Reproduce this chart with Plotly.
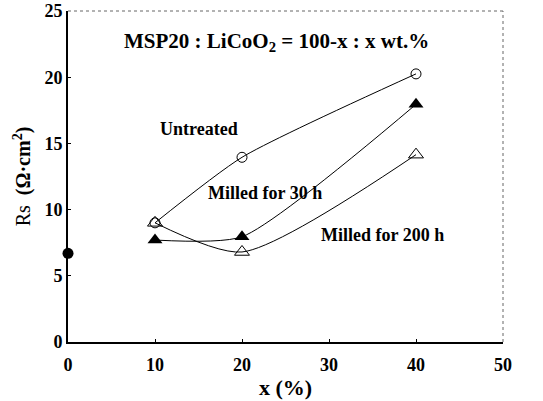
import plotly.graph_objects as go

x_vals = [10, 20, 40]
untreated = [9.0, 13.95, 20.25]
milled_30h = [7.7, 7.95, 17.95]
milled_200h = [9.0, 6.8, 14.15]
ref_x = [0]
ref_y = [6.7]

FONT = "Liberation Serif"

fig = go.Figure()
fig.add_trace(go.Scatter(x=x_vals, y=untreated, mode="lines+markers", name="Untreated",
                         line=dict(color="black", width=1, shape="spline", smoothing=0.6),
                         marker=dict(symbol="circle-open", size=10, color="black", line=dict(width=1))))
fig.add_trace(go.Scatter(x=x_vals, y=milled_30h, mode="lines+markers", name="Milled for 30 h",
                         line=dict(color="black", width=1, shape="spline", smoothing=0.6),
                         marker=dict(symbol="triangle-up", size=13, color="black")))
fig.add_trace(go.Scatter(x=x_vals, y=milled_200h, mode="lines+markers", name="Milled for 200 h",
                         line=dict(color="black", width=1, shape="spline", smoothing=0.7),
                         marker=dict(symbol="triangle-up-open", size=13, color="black", line=dict(width=1))))
fig.add_trace(go.Scatter(x=ref_x, y=ref_y, mode="markers", name="MSP20",
                         marker=dict(symbol="circle", size=11, color="black"), cliponaxis=False))

annots = [
    dict(x=24.0, y=22.66, text="<b>MSP20 : LiCoO<sub>2</sub> = 100-x : x wt.%</b>", size=21),
    dict(x=15.1, y=16.1, text="<b>Untreated</b>", size=18),
    dict(x=22.6, y=11.25, text="<b>Milled for 30 h</b>", size=18),
    dict(x=36.2, y=8.08, text="<b>Milled for 200 h</b>", size=18),
]
for a in annots:
    fig.add_annotation(x=a["x"], y=a["y"], text=a["text"], showarrow=False,
                       font=dict(family=FONT, size=a["size"], color="black"))

# thin dotted top/right frame
fig.add_shape(type="line", xref="paper", yref="paper", x0=0, x1=1, y0=1, y1=1,
              line=dict(color="#666", width=1, dash="dot"))
fig.add_shape(type="line", xref="paper", yref="paper", x0=1, x1=1, y0=0, y1=1,
              line=dict(color="#666", width=1, dash="dot"))

fig.update_layout(
    width=543, height=401,
    margin=dict(l=68, r=40, t=11, b=59),
    plot_bgcolor="white", paper_bgcolor="white",
    showlegend=False,
    font=dict(family=FONT, color="black"),
    xaxis=dict(range=[0, 50], tickvals=[0, 10, 20, 30, 40, 50],
               ticktext=["<b>0</b>", "<b>10</b>", "<b>20</b>", "<b>30</b>", "<b>40</b>", "<b>50</b>"],
               ticks="inside", ticklen=3, tickcolor="black", ticklabelstandoff=5,
               showline=True, linecolor="black", linewidth=2, showgrid=False, zeroline=False,
               tickfont=dict(family=FONT, size=18), automargin=False,
               title=dict(text="<b>x (%)</b>", font=dict(family=FONT, size=22), standoff=6)),
    yaxis=dict(range=[0, 25], tickvals=[0, 5, 10, 15, 20, 25],
               ticktext=["<b>0</b>", "<b>5</b>", "<b>10</b>", "<b>15</b>", "<b>20</b>", "<b>25</b>"],
               ticks="inside", ticklen=3, tickcolor="black",
               showline=True, linecolor="black", linewidth=2, showgrid=False, zeroline=False,
               tickfont=dict(family=FONT, size=18), automargin=False,
               title=dict(text="Rs  <b>(Ω·cm<sup>2</sup>)</b>", font=dict(family=FONT, size=20), standoff=8)),
)

fig.write_html("out.html")
